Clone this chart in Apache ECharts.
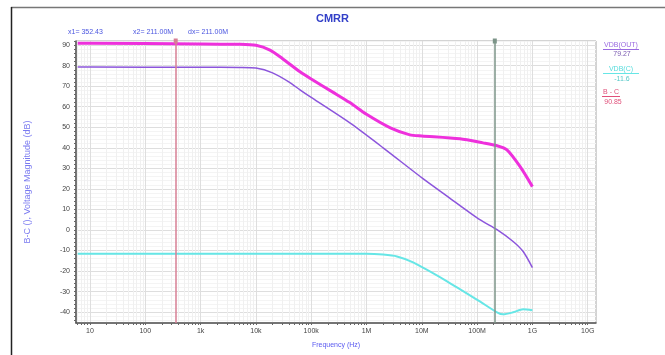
<!DOCTYPE html>
<html>
<head>
<meta charset="utf-8">
<script src="https://cdn.jsdelivr.net/npm/echarts@6/dist/echarts.min.js"></script>
<style>
	html, body { margin: 0; padding: 0; background: #fff; }
	#chart1 { width: 665px; height: 355px; }
</style>
</head>
<body>
<div id="chart1"></div>
<script>
// frequencies in Hz, values in dB
const freqOut = [6, 10, 1e3, 5e3, 1e4, 2e4, 4e4, 6.27e4, 1e5, 5e5, 2e6, 1.05e7, 2.86e7, 1.12e8, 2.29e8, 4.48e8, 6.8e8, 1e9];
const valOut = [79.3, 79.3, 79.2, 79.1, 78.8, 76.5, 72, 68.2, 64.5, 52.1, 40, 25, 16.5, 5, 0.2, -5.6, -10.5, -18.3];

const freqC = [6, 10, 1e3, 1e4, 1e5, 1e6, 2e6, 3.56e6, 6.96e6, 2.86e7, 1.12e8, 2.29e8, 2.96e8, 4.48e8, 6.8e8, 1e9];
const valC = [-11.6, -11.6, -11.6, -11.6, -11.6, -11.6, -12, -12.9, -15.8, -25, -34.8, -40.1, -41.1, -40.1, -38.6, -39.1];

const freqBC = [6, 10, 1e3, 5e3, 1e4, 1.8e4, 3e4, 6.27e4, 1e5, 2.5e5, 5e5, 1e6, 2.7e6, 6.1e6, 1e7, 4.9e7, 1.28e8, 2.29e8, 3.47e8, 6e8, 1e9];
const valBC = [90.85, 90.85, 90.6, 90.4, 89.9, 87.6, 83.5, 77, 73.5, 67, 62, 56.3, 49.7, 46.3, 45.8, 44.4, 42.4, 41, 39, 30.8, 21.1];

const decadeLabels = ['10', '100', '1k', '10k', '100k', '1M', '10M', '100M', '1G', '10G'];
const yLabels = [-40, -30, -20, -10, 0, 10, 20, 30, 40, 50, 60, 70, 80, 90];

const cursor1 = 352.43;
const cursor2 = 211.0e6;

const toPts = (fs, vs) => fs.map((f, i) => [Math.log10(f), vs[i]]);

const decadeVals = decadeLabels.map((s, i) => i + 1);
const xTickVals = [];
for (let d = 0; d <= 10; d++) {
	for (let m = 1; m <= 9; m++) {
		const v = d + Math.log10(m);
		if (v > 0.74 && v < 10.15) xTickVals.push(v);
	}
}
const yMinorVals = [];
for (let v = -44; v <= 92; v += 2) yMinorVals.push(v);

const labelStyle = { fontSize: 7, color: '#444', fontFamily: 'Liberation Sans' };

const getOptionChart1 = () => {
	return {
		animation: false,
		backgroundColor: '#fff',
		grid: {
			left: 76, right: 69, top: 41, bottom: 32,
			show: true, borderColor: '#a8a8a8', borderWidth: 1,
			outerBoundsMode: 'none'
		},
		xAxis: [
			{
				type: 'value', min: 0.747, max: 10.15, position: 'bottom',
				name: 'Frequency (Hz)', nameLocation: 'middle', nameGap: 19,
				nameTextStyle: { fontSize: 7, color: '#5a5af0', fontFamily: 'Liberation Sans' },
				axisLine: { show: true, onZero: false, lineStyle: { color: '#555', width: 1.5 } },
				axisTick: { show: true, length: 2, customValues: xTickVals, lineStyle: { color: '#666' } },
				axisLabel: Object.assign({
					customValues: decadeVals, margin: 5,
					formatter: (v) => decadeLabels[Math.round(v) - 1]
				}, labelStyle),
				splitLine: { show: true, lineStyle: { color: '#f0f0f0', width: 1 } }
			},
			{
				type: 'value', min: 0.747, max: 10.15, position: 'top',
				axisLine: { show: false, onZero: false },
				axisTick: { show: false, customValues: decadeVals },
				axisLabel: { show: false },
				splitLine: { show: true, lineStyle: { color: '#dedede', width: 1 } }
			}
		],
		yAxis: [
			{
				type: 'value', min: -45.3, max: 92, position: 'left',
				name: 'B-C (), Voltage Magnitude (dB)', nameLocation: 'middle', nameGap: 44,
				nameTextStyle: { fontSize: 9, color: '#7a7af0', fontFamily: 'Liberation Sans' },
				axisLine: { show: true, onZero: false, lineStyle: { color: '#555', width: 1.5 } },
				axisTick: { show: true, length: 2, customValues: yMinorVals, lineStyle: { color: '#666' } },
				axisLabel: Object.assign({ customValues: yLabels, margin: 6 }, labelStyle),
				splitLine: { show: true, lineStyle: { color: '#f4f4f4', width: 1 } }
			},
			{
				type: 'value', min: -45.3, max: 92, position: 'right',
				axisLine: { show: false, onZero: false },
				axisTick: { show: false, customValues: yLabels },
				axisLabel: { show: false },
				splitLine: { show: true, lineStyle: { color: '#dedede', width: 1 } }
			}
		],
		series: [
			{
				name: 'VDB(C)', type: 'line', data: toPts(freqC, valC),
				showSymbol: false, smooth: 0.25,
				lineStyle: { color: '#66e6e6', width: 2 }
			},
			{
				name: 'VDB(OUT)', type: 'line', data: toPts(freqOut, valOut),
				showSymbol: false, smooth: 0.25,
				lineStyle: { color: '#8c55dc', width: 1.5 },
				markLine: {
					silent: true, animation: false,
					symbol: ['none', 'rect'], symbolSize: [4, 5],
					label: { show: false },
					data: [
						{ xAxis: Math.log10(cursor1), lineStyle: { color: '#d77f95', width: 1.5, type: 'solid' }, itemStyle: { color: '#7a3050' } },
						{ xAxis: Math.log10(cursor2), lineStyle: { color: '#7c9488', width: 1.5, type: 'solid' }, itemStyle: { color: '#3f5a4c' } }
					]
				}
			},
			{
				name: 'B - C', type: 'line', data: toPts(freqBC, valBC),
				showSymbol: false, smooth: 0.25,
				lineStyle: { color: '#ee30dc', width: 3 }
			}
		],
		graphic: [
			{ type: 'line', shape: { x1: 11, y1: 7.5, x2: 665, y2: 7.5 }, style: { stroke: '#777', lineWidth: 1.5 } },
			{ type: 'line', shape: { x1: 11.5, y1: 7, x2: 11.5, y2: 355 }, style: { stroke: '#222', lineWidth: 1.5 } },
			{ type: 'text', left: 'center', top: 13, style: { text: 'CMRR', fontSize: 11, fontWeight: 'bold', fill: '#3340c8', fontFamily: 'Liberation Sans' } },
			{ type: 'text', x: 68, y: 29, style: { text: 'x1= 352.43', fontSize: 7, fill: '#4a55e0', fontFamily: 'Liberation Sans' } },
			{ type: 'text', x: 133, y: 29, style: { text: 'x2= 211.00M', fontSize: 7, fill: '#4a55e0', fontFamily: 'Liberation Sans' } },
			{ type: 'text', x: 188, y: 29, style: { text: 'dx= 211.00M', fontSize: 7, fill: '#4a55e0', fontFamily: 'Liberation Sans' } },
			{ type: 'text', x: 621, y: 45, style: { text: 'VDB(OUT)', fontSize: 7, fill: '#9a6ae0', align: 'center', verticalAlign: 'middle', fontFamily: 'Liberation Sans' } },
			{ type: 'line', shape: { x1: 603, y1: 49.5, x2: 639, y2: 49.5 }, style: { stroke: '#9a6ae0', lineWidth: 1 } },
			{ type: 'text', x: 622, y: 54, style: { text: '79.27', fontSize: 7, fill: '#7a5ab0', align: 'center', verticalAlign: 'middle', fontFamily: 'Liberation Sans' } },
			{ type: 'text', x: 621, y: 69, style: { text: 'VDB(C)', fontSize: 7, fill: '#55dcdc', align: 'center', verticalAlign: 'middle', fontFamily: 'Liberation Sans' } },
			{ type: 'line', shape: { x1: 603, y1: 73.5, x2: 639, y2: 73.5 }, style: { stroke: '#66e6e6', lineWidth: 1 } },
			{ type: 'text', x: 622, y: 79, style: { text: '-11.6', fontSize: 7, fill: '#55c8c8', align: 'center', verticalAlign: 'middle', fontFamily: 'Liberation Sans' } },
			{ type: 'text', x: 611, y: 92, style: { text: 'B - C', fontSize: 7, fill: '#e0507a', align: 'center', verticalAlign: 'middle', fontFamily: 'Liberation Sans' } },
			{ type: 'line', shape: { x1: 602, y1: 96.5, x2: 620, y2: 96.5 }, style: { stroke: '#e0507a', lineWidth: 1 } },
			{ type: 'text', x: 613, y: 102, style: { text: '90.85', fontSize: 7, fill: '#e0507a', align: 'center', verticalAlign: 'middle', fontFamily: 'Liberation Sans' } }
		]
	};
};

const initCharts = () => {
	const chart1 = echarts.init(document.getElementById("chart1"));
	chart1.setOption(getOptionChart1());
};

initCharts();
</script>
</body>
</html>
